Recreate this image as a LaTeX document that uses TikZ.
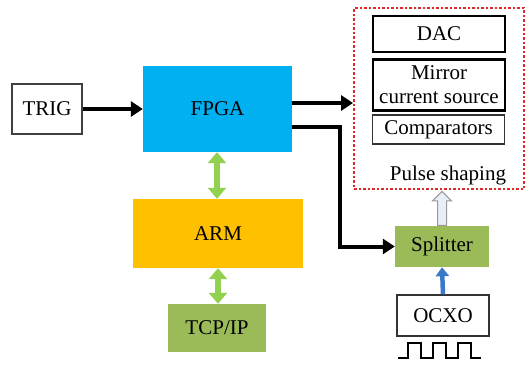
\documentclass[tikz,border=0pt]{standalone}
\usepackage{fontspec}
\setmainfont{Liberation Serif}
\usetikzlibrary{arrows.meta}
\usetikzlibrary{shapes.arrows}
\usepackage{xcolor}
\definecolor{fpgablue}{HTML}{00B0F0}
\definecolor{armorange}{HTML}{FFC000}
\definecolor{boxgreen}{HTML}{9BBB59}
\definecolor{linkgreen}{HTML}{92D050}
\definecolor{clkblue}{HTML}{3A78C8}
\definecolor{dashred}{HTML}{E02828}
\definecolor{hollowfill}{HTML}{E8EEF6}

\begin{document}
\begin{tikzpicture}[x=1pt,y=-1pt,
  blk/.style={rectangle,inner sep=0pt,align=center,font=\fontsize{21}{24}\selectfont},
  blkarrow/.style={line width=4pt,-{Triangle[length=12pt,width=15pt]}},
  linkarrow/.style={linkgreen,line width=5.5pt,{Triangle[length=11pt,width=18pt]}-{Triangle[length=11pt,width=18pt]}},
  clkarrow/.style={clkblue,line width=4.5pt,-{Triangle[length=9pt,width=13pt]}}]
\useasboundingbox (0,0) rectangle (529,365);
% blocks
\node[blk,draw=black!75,line width=1.2pt,minimum width=70pt,minimum height=50pt] (trig) at (47,109) {TRIG};
\node[blk,fill=fpgablue,minimum width=149pt,minimum height=86pt] (fpga) at (217.5,109) {FPGA};
\node[blk,fill=armorange,minimum width=170pt,minimum height=69pt] (arm) at (218,233.5) {ARM};
\node[blk,fill=boxgreen,minimum width=98pt,minimum height=48pt] (tcp) at (217,328) {TCP/IP};
\node[blk,fill=boxgreen,minimum width=94pt,minimum height=41pt] (split) at (442,246.5) {Splitter};
\node[blk,draw=black!80,line width=1.2pt,minimum width=92pt,minimum height=41pt] (ocxo) at (443,315.5) {OCXO};
% pulse shaping group
\node[draw=dashred,line width=2pt,dash pattern=on 2.5pt off 2pt,minimum width=170pt,minimum height=181pt] (shaping) at (439,98.5) {};
\node[blk,draw,line width=2pt,minimum width=132pt,minimum height=36pt] (dac) at (439,34) {DAC};
\node[blk,draw,line width=2.5pt,minimum width=132pt,minimum height=51pt] (mirror) at (439,85) {Mirror\\current source};
\node[blk,draw=black!80,line width=1.2pt,minimum width=132pt,minimum height=29pt] (comp) at (438.5,129.5) {Comparators};
\node[blk] (pulse) at (448,175) {Pulse shaping};
% connectors
\coordinate (fpgaout) at ([yshift=6pt]fpga.east);
\coordinate (fpgaclk) at ([yshift=-18pt]fpga.east);
\draw[blkarrow] (trig) -- (fpga);
\draw[blkarrow] (fpgaout) -- (fpgaout -| shaping.west);
\draw[blkarrow] (fpgaclk) -- ++(48,0) |- (split.west);
\draw[linkarrow] (fpga.south -| 217,0) -- (arm.north -| 217,0);
\draw[linkarrow] (arm.south -| 218,0) -- (tcp.north -| 218,0);
\draw[clkarrow] (ocxo.north) -- (split.south);
\node[single arrow,draw=black!40,fill=hollowfill,line width=1pt,inner sep=4pt,
  minimum width=18pt,minimum height=34pt,single arrow head extend=5pt,
  shape border rotate=90,anchor=tail] (up) at (split.north) {};
% square wave under OCXO
\draw[line width=2.2pt] (398,358) foreach \p in {408,433,458} { -- (\p,358) -- (\p,343) -- (\p+13,343) -- (\p+13,358) } -- (481,358);
\end{tikzpicture}
\end{document}
